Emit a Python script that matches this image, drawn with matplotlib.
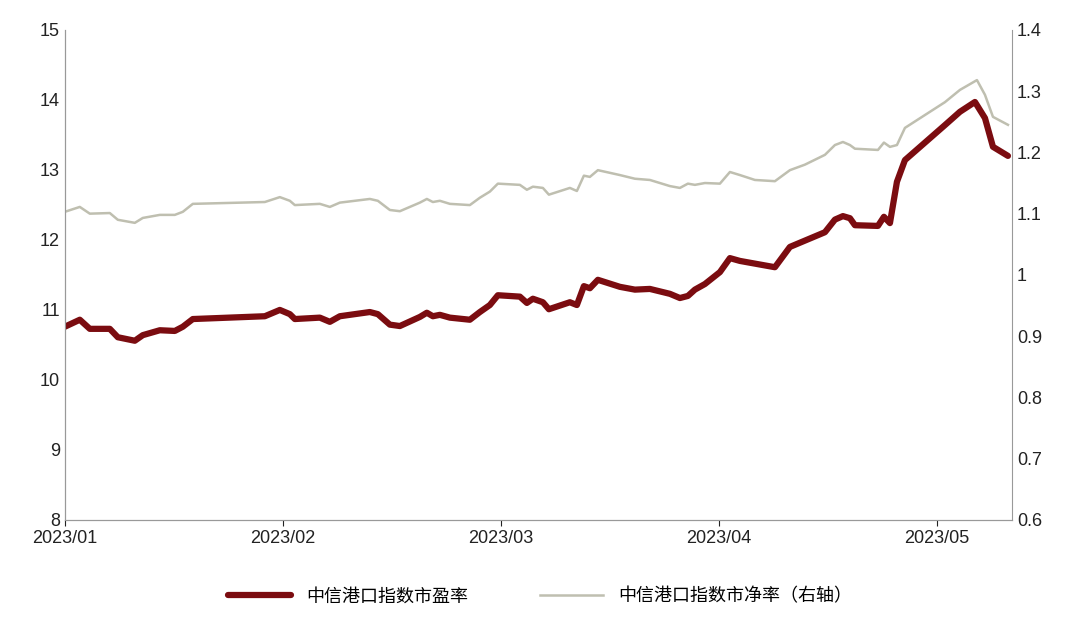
import numpy as np
import matplotlib.pyplot as plt

plt.rcParams['font.family'] = ['Liberation Sans', 'Noto Sans CJK SC', 'DejaVu Sans']

# x in months since 2023/01 (0 = Jan 1, 1 = Feb 1 ...)
pe_x_px = [65, 80, 90, 110, 118, 135, 143, 160, 175, 183, 193, 265, 280, 290, 295, 320, 330, 340,
           370, 378, 390, 400, 420, 427, 433, 440, 450, 470, 480, 490, 498, 520, 527, 533, 543, 549,
           570, 577, 584, 590, 598, 620, 635, 650, 670, 680, 688, 695, 705, 720, 730, 740, 775, 790,
           805, 825, 835, 843, 850, 855, 878, 884, 890, 897, 905, 945, 960, 975, 985, 993, 1008]
pe = [10.76, 10.86, 10.73, 10.73, 10.61, 10.56, 10.64, 10.71, 10.70, 10.76, 10.87, 10.91, 11.0,
      10.94, 10.87, 10.89, 10.83, 10.91, 10.97, 10.94, 10.79, 10.77, 10.9, 10.96, 10.91, 10.93,
      10.89, 10.86, 10.97, 11.07, 11.21, 11.19, 11.1, 11.16, 11.11, 11.01, 11.11, 11.07, 11.34,
      11.31, 11.43, 11.33, 11.29, 11.3, 11.23, 11.17, 11.2, 11.29, 11.37, 11.54, 11.74, 11.7,
      11.61, 11.9, 11.99, 12.11, 12.29, 12.34, 12.31, 12.21, 12.2, 12.33, 12.24, 12.83, 13.14,
      13.64, 13.83, 13.97, 13.74, 13.33, 13.2]

pb_x_px = [65, 80, 90, 110, 118, 135, 143, 160, 175, 183, 193, 265, 280, 290, 295, 320, 330, 340,
           370, 378, 390, 400, 420, 427, 433, 440, 450, 470, 480, 490, 498, 520, 527, 533, 543, 549,
           570, 577, 584, 590, 598, 620, 635, 650, 670, 680, 688, 695, 705, 720, 730, 740, 755, 775,
           790, 805, 825, 835, 843, 850, 855, 878, 884, 890, 897, 905, 945, 960, 977, 985, 993, 1008]
pb = [1.103, 1.111, 1.1, 1.101, 1.09, 1.085, 1.093, 1.098, 1.098, 1.103, 1.116, 1.119, 1.127,
      1.121, 1.114, 1.116, 1.111, 1.118, 1.124, 1.121, 1.106, 1.104, 1.118, 1.124, 1.119, 1.121,
      1.116, 1.114, 1.126, 1.136, 1.149, 1.147, 1.139, 1.144, 1.142, 1.131, 1.142, 1.137, 1.162,
      1.16, 1.171, 1.163, 1.157, 1.155, 1.145, 1.142, 1.149, 1.147, 1.15, 1.149, 1.168, 1.163,
      1.155, 1.153, 1.171, 1.18, 1.196, 1.212, 1.217, 1.212, 1.206, 1.204, 1.216, 1.209, 1.212,
      1.24, 1.282, 1.302, 1.318, 1.294, 1.258, 1.245]

pe_x = (np.array(pe_x_px) - 65) / 218
pb_x = (np.array(pb_x_px) - 65) / 218
tick_labels = ['2023/01', '2023/02', '2023/03', '2023/04', '2023/05']

fig = plt.figure(figsize=(10.8, 6.22), dpi=100)
ax = fig.add_axes([0.06, 0.164, 0.877, 0.788])
ax2 = ax.twinx()

l1, = ax.plot(pe_x, pe, color='#7b0c10', lw=4.5, label='中信港口指数市盈率', solid_capstyle='round')
l2, = ax2.plot(pb_x, pb, color='#bfbfb0', lw=1.8, label='中信港口指数市净率（右轴）')
ax.set_zorder(ax2.get_zorder() + 1)
ax.patch.set_visible(False)

ax.set_xlim(0, (1012 - 65) / 218)
ax.set_ylim(8, 15)
ax2.set_ylim(0.6, 1.4)
ax.set_yticks(range(8, 16))
ax2.set_yticks([0.6, 0.7, 0.8, 0.9, 1.0, 1.1, 1.2, 1.3, 1.4])
ax2.set_yticklabels(['0.6', '0.7', '0.8', '0.9', '1', '1.1', '1.2', '1.3', '1.4'])
ax.set_xticks(range(5))
ax.set_xticklabels(tick_labels)

for a in (ax, ax2):
    a.spines['top'].set_visible(False)
    a.tick_params(labelsize=13, colors='#222222', length=4, direction='out')
ax.spines['right'].set_visible(False)
for s in ('left', 'right', 'bottom'):
    ax2.spines[s].set_color('#999999')
ax.spines['left'].set_color('#999999')
ax.spines['bottom'].set_color('#999999')
ax.tick_params(axis='y', length=0)
ax2.tick_params(axis='y', length=0)

fig.legend(handles=[l1, l2], loc='lower center', bbox_to_anchor=(0.5, 0.0), ncol=2,
           frameon=False, fontsize=13, handlelength=3.5, columnspacing=4)

fig.savefig('out.png', dpi=100)
